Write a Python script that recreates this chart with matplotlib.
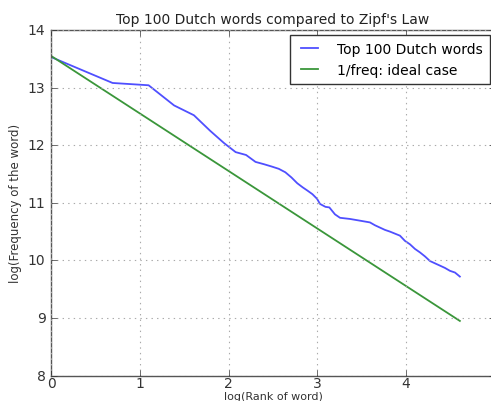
import matplotlib
matplotlib.use('Agg')
import matplotlib.pyplot as plt

# log(rank) and log(frequency) of the top 100 Dutch words
log_rank = [0.0, 0.693, 1.099, 1.386, 1.609, 1.792, 1.946, 2.079, 2.197, 2.303,
            2.398, 2.485, 2.565, 2.639, 2.708, 2.773, 2.833, 2.890, 2.944, 2.996,
            3.030, 3.091, 3.135, 3.198, 3.255, 3.367, 3.480, 3.592, 3.649, 3.705,
            3.761, 3.818, 3.930, 3.986, 4.043, 4.099, 4.155, 4.212, 4.268, 4.324,
            4.381, 4.437, 4.493, 4.550, 4.605]
log_freq = [13.53, 13.08, 13.04, 12.69, 12.52, 12.25, 12.04, 11.88, 11.83, 11.71,
            11.67, 11.63, 11.59, 11.53, 11.44, 11.34, 11.27, 11.21, 11.15, 11.07,
            10.98, 10.93, 10.92, 10.80, 10.74, 10.72, 10.69, 10.66, 10.61, 10.57,
            10.53, 10.50, 10.43, 10.34, 10.28, 10.20, 10.14, 10.07, 9.99, 9.95,
            9.91, 9.87, 9.82, 9.79, 9.72]

# ideal zipf line (1/freq), end points
ideal_rank = [0.0, 4.605]
ideal_freq = [13.55, 8.95]

plt.style.use('classic')
fig = plt.figure(figsize=(4.91, 4.02), dpi=100)
ax = fig.add_axes([0.104, 0.063, 0.904, 0.86])

ax.plot(log_rank, log_freq, color='#4f4fff', linewidth=1.3, label='Top 100 Dutch words')
ax.plot(ideal_rank, ideal_freq, color='#3a963a', linewidth=1.3, label='1/freq: ideal case')

ax.set_xlim(0, 5)
ax.set_ylim(8, 14)
ax.set_xticks([0, 1, 2, 3, 4, 5])
ax.set_yticks([8, 9, 10, 11, 12, 13, 14])
ax.tick_params(labelsize=10, colors='#333333')
ax.tick_params(axis='x', pad=0)
for sp in ax.spines.values():
    sp.set_color('#555555')
ax.grid(True, color='#aaaaaa', linestyle=':', linewidth=0.8)

ax.set_title("Top 100 Dutch words compared to Zipf's Law", fontsize=10, color='#222222')
ax.set_xlabel('log(Rank of word)', fontsize=8, color='#333333')
ax.xaxis.set_label_coords(0.5, -0.043)
ax.xaxis.label.set_va('top')
ax.set_ylabel('log(Frequency of the word)', fontsize=8.5, color='#333333', labelpad=4)
leg = ax.legend(loc='upper right', fontsize=10, handlelength=1.8, handletextpad=1.1,
                borderpad=0.5, borderaxespad=0.35)
leg.get_frame().set_edgecolor('#333333')

plt.savefig('out.png', dpi=100)
